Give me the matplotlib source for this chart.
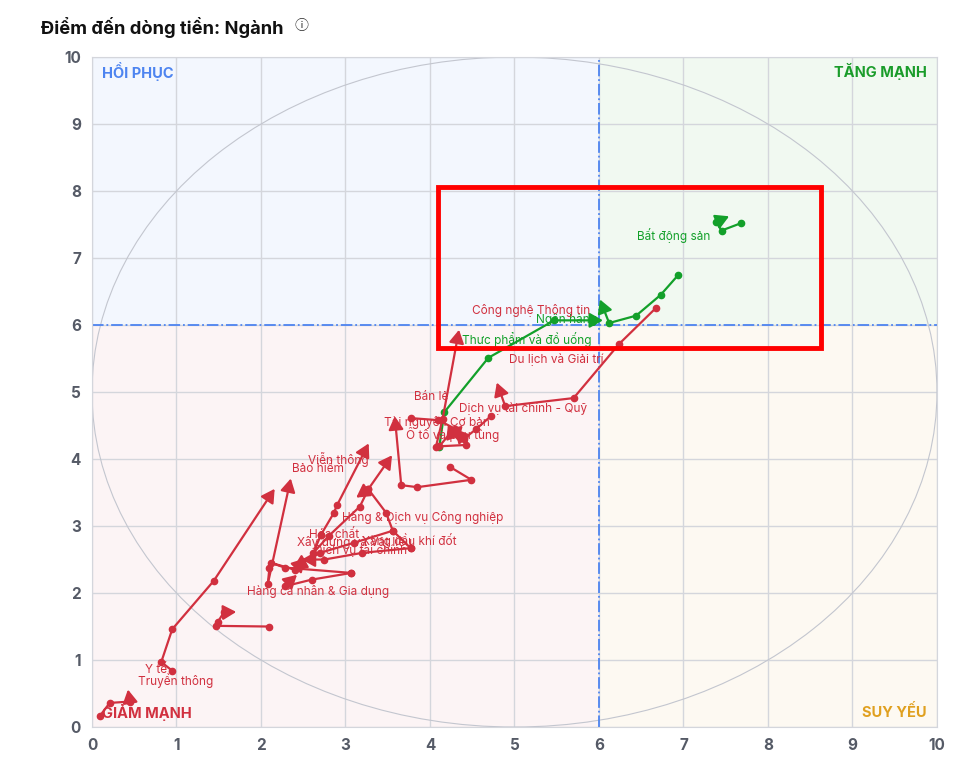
import matplotlib.pyplot as plt
from matplotlib.patches import Ellipse, Rectangle, FancyArrowPatch

plt.rcParams["font.family"] = ["Inter", "DejaVu Sans"]

RED = "#d1303f"
GREEN = "#13a02a"

# each trail: oldest -> newest, last point is the arrow tip
sector_names = [
    "Bất động sản", "Ngân hàng", "Thực phẩm và đồ uống", "Du lịch và Giải trí",
    "Bán lẻ", "Dịch vụ tài chính - Quỹ", "Tài nguyên Cơ bản", "Ô tô và phụ tùng",
    "Công nghệ Thông tin", "Viễn thông", "Bảo hiểm", "Hàng & Dịch vụ Công nghiệp",
    "Hóa chất", "Xây dựng và Vật liệu", "Xăng dầu khí đốt", "Dịch vụ tài chính",
    "Hàng cá nhân & Gia dụng", "Y tế", "Truyền thông", "Điện, nước & xăng dầu",
]
sector_up = [True, True, True] + [False] * 17
trail_x = [
    [7.68, 7.45, 7.39, 7.57],
    [6.94, 6.73, 6.44, 6.12, 6.00],
    [4.11, 4.17, 4.69, 5.47, 6.08],
    [6.67, 6.24, 5.70, 4.89, 4.78],
    [4.07, 4.15, 4.35],
    [4.72, 4.55, 4.40, 4.28],
    [3.78, 4.10, 4.30, 4.35],
    [4.43, 4.11, 4.25, 4.20],
    [4.24, 4.49, 3.85, 3.66, 3.58],
    [2.71, 2.86, 2.90, 3.29],
    [2.10, 2.08, 2.36],
    [3.77, 3.56, 3.48, 3.27, 3.57],
    [2.71, 2.62, 2.80, 3.17, 3.27, 3.10],
    [3.56, 3.10, 2.70, 2.35],
    [3.77, 3.20, 2.75, 2.45],
    [3.07, 2.28, 2.12, 2.40, 2.55],
    [3.07, 2.60, 2.28, 2.45],
    [2.10, 1.47, 1.49, 1.56, 1.74],
    [0.95, 0.82, 0.95, 1.44, 2.18],
    [0.09, 0.21, 0.45, 0.42],
]
trail_y = [
    [7.52, 7.41, 7.54, 7.64],
    [6.75, 6.45, 6.14, 6.03, 6.42],
    [4.18, 4.70, 5.51, 6.07, 6.07],
    [6.25, 5.72, 4.91, 4.79, 5.18],
    [4.18, 4.60, 5.97],
    [4.64, 4.45, 4.30, 4.48],
    [4.61, 4.58, 4.45, 4.22],
    [4.21, 4.19, 4.40, 4.55],
    [3.88, 3.69, 3.58, 3.61, 4.68],
    [2.87, 3.19, 3.31, 4.27],
    [2.37, 2.13, 3.75],
    [2.67, 2.93, 3.20, 3.55, 4.09],
    [2.87, 2.60, 2.85, 3.29, 3.55, 3.40],
    [2.93, 2.75, 2.60, 2.35],
    [2.67, 2.60, 2.50, 2.50],
    [2.30, 2.38, 2.45, 2.35, 2.55],
    [2.30, 2.20, 2.10, 2.30],
    [1.50, 1.51, 1.57, 1.71, 1.72],
    [0.84, 0.97, 1.46, 2.18, 3.59],
    [0.16, 0.36, 0.38, 0.60],
]
label_x = [6.89, 5.61, 5.14, 5.50, 4.02, 5.10, 4.08, 4.27, 5.20, 2.91, 2.67,
           3.91, 2.87, 3.11, 3.76, 3.18, 2.67, 0.76, 0.99, None]
label_y = [7.33, 6.09, 5.79, 5.48, 4.93, 4.75, 4.54, 4.36, 6.21, 4.00, 3.85,
           3.13, 2.87, 2.76, 2.79, 2.64, 2.03, 0.85, 0.70, None]

fig = plt.figure(figsize=(9.62, 7.75), dpi=100)
ax = fig.add_axes([0.0956, 0.0619, 0.8784, 0.8645])
ax.set_xlim(0, 10)
ax.set_ylim(0, 10)

ax.add_patch(Rectangle((0, 6), 6, 4, color="#f3f7fe", zorder=0))
ax.add_patch(Rectangle((6, 6), 4, 4, color="#f1f9f1", zorder=0))
ax.add_patch(Rectangle((0, 0), 6, 6, color="#fcf4f5", zorder=0))
ax.add_patch(Rectangle((6, 0), 4, 6, color="#fdf9f2", zorder=0))
ax.add_patch(Ellipse((5, 5), 10, 10, fill=False, ec="#c3c6cf", lw=0.8, zorder=1))

ax.set_xticks(range(0, 11))
ax.set_yticks(range(0, 11))
ax.grid(color="#d4d6dc", lw=1, zorder=0.5)
ax.set_axisbelow(True)
for s in ax.spines.values():
    s.set_color("#d4d6dc")
ax.tick_params(length=0, labelsize=11, labelcolor="#555a66", pad=8)
for t in ax.get_xticklabels() + ax.get_yticklabels():
    t.set_fontweight("bold")

ax.axvline(6, color="#4d84f0", lw=1.3, ls="-.", zorder=2)
ax.axhline(6, color="#4d84f0", lw=1.3, ls="-.", zorder=2)

for i, name in enumerate(sector_names):
    c = GREEN if sector_up[i] else RED
    xs, ys = trail_x[i], trail_y[i]
    ax.plot(xs[:-1], ys[:-1], color=c, lw=1.6, marker="o", ms=4.5, zorder=3)
    ax.add_patch(FancyArrowPatch((xs[-2], ys[-2]), (xs[-1], ys[-1]),
                                 arrowstyle="-|>,head_length=8,head_width=4.5",
                                 color=c, lw=1.6, zorder=3))
    if label_x[i] is not None:
        ax.text(label_x[i], label_y[i], name, color=c, fontsize=8.5,
                ha="center", va="center", zorder=4)

ax.text(0.12, 9.78, "HỒI PHỤC", color="#4d84f0", fontsize=10.5, fontweight="bold", va="center")
ax.text(9.88, 9.78, "TĂNG MẠNH", color="#1a9c2a", fontsize=10.5, fontweight="bold", va="center", ha="right")
ax.text(0.12, 0.22, "GIẢM MẠNH", color="#d1303f", fontsize=10.5, fontweight="bold", va="center")
ax.text(9.88, 0.22, "SUY YẾU", color="#e0a020", fontsize=10.5, fontweight="bold", va="center", ha="right")

ax.add_patch(Rectangle((4.10, 5.66), 4.53, 2.40, fill=False, ec="#ff0000", lw=3.5,
                       zorder=5, clip_on=False))

fig.text(0.043, 0.965, "Điểm đến dòng tiền: Ngành", fontsize=13.2, fontweight="bold",
         color="#111111", va="center")
fig.text(0.306, 0.966, "ⓘ", fontsize=10, color="#333333", va="center",
         family=["Noto Sans CJK JP", "DejaVu Sans"])

fig.savefig("out.png")
